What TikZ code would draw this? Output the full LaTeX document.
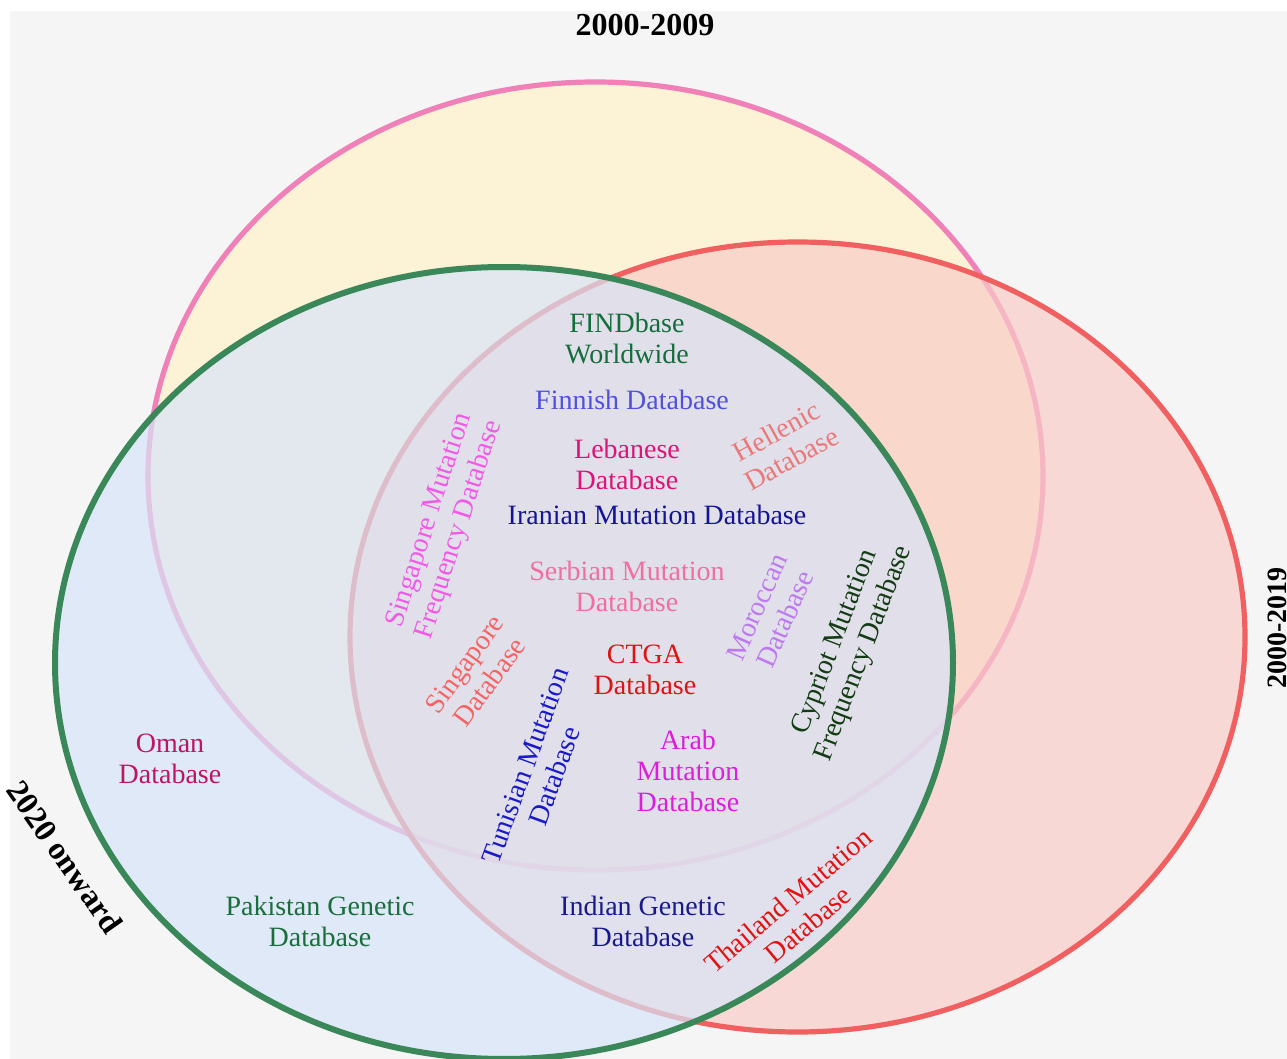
\documentclass[tikz,border=0pt]{standalone}
\usepackage{fontspec}
\setmainfont{Liberation Serif}
\usepackage{tikz}
\usetikzlibrary{positioning}
\definecolor{panel}{RGB}{245,245,245}
\definecolor{pinkline}{RGB}{240,128,184}
\definecolor{pinkfill}{RGB}{255,241,201}
\definecolor{redline}{RGB}{240,96,96}
\definecolor{redfill}{RGB}{249,204,199}
\definecolor{greenline}{RGB}{58,136,90}
\definecolor{greenfill}{RGB}{215,229,248}
\definecolor{cfind}{RGB}{20,110,60}
\definecolor{cfinn}{RGB}{80,80,220}
\definecolor{cleb}{RGB}{220,20,120}
\definecolor{chel}{RGB}{235,120,120}
\definecolor{ciran}{RGB}{20,20,150}
\definecolor{csgf}{RGB}{240,90,230}
\definecolor{cserb}{RGB}{240,110,160}
\definecolor{cmor}{RGB}{190,120,240}
\definecolor{ccyp}{RGB}{20,60,20}
\definecolor{csgd}{RGB}{245,100,100}
\definecolor{cctga}{RGB}{220,20,20}
\definecolor{ctun}{RGB}{25,25,200}
\definecolor{carab}{RGB}{220,30,220}
\definecolor{coman}{RGB}{190,20,100}
\definecolor{cpak}{RGB}{25,110,60}
\definecolor{cind}{RGB}{25,25,140}
\definecolor{cthai}{RGB}{225,20,20}

\begin{document}
\begin{tikzpicture}[x=0.5pt,y=-0.5pt,
  set/.style={line width=2.6pt, fill opacity=0.7},
  lbl/.style={align=center, inner sep=0pt, font=\fontsize{14pt}{15.5pt}\selectfont},
  era/.style={inner sep=0pt, font=\bfseries\fontsize{16pt}{18pt}\selectfont}]
\useasboundingbox (0,0) rectangle (1287,1059);
\fill[panel] (10,11) rectangle (1287,1059);
%\draw[help lines] (0,0) grid[step=100] (1287,1059);
\draw[set, draw=pinkline, fill=pinkfill] (595.5,476) ellipse [x radius=447.5, y radius=394];
\draw[set, draw=redline, fill=redfill] (797.5,637) ellipse [x radius=447.5, y radius=395];
\draw[set, draw=greenline, fill=greenfill, line width=3pt] (504,663) ellipse [x radius=449, y radius=396];
\node[era] (e2009) at (645,25) {2000-2009};
\node[era, font=\bfseries\fontsize{14pt}{16pt}\selectfont, rotate=90] (e2019) at (1277,628) {2000-2019};
\node[era, rotate=-55] (e2020) at (65,857) {2020 onward};
\node[lbl, text=cfind] (find) at (627,339) {FINDbase\\Worldwide};
\node[lbl, text=cfinn] (finn) at (632,400) {Finnish Database};
\node[lbl, text=cleb] (leb) at (627,464) {Lebanese\\Database};
\node[lbl, text=chel, rotate=29] (hel) at (784,445) {Hellenic\\Database};
\node[lbl, text=ciran] (iran) at (657,515) {Iranian Mutation Database};
\node[lbl, text=csgf, rotate=72] (sgfreq) at (445,525) {Singapore Mutation\\Frequency Database};
\node[lbl, text=cserb] (serb) at (627,586) {Serbian Mutation\\Database};
\node[lbl, text=cmor, rotate=66] (mor) at (771,613) {Moroccan\\Database};
\node[lbl, text=ccyp, rotate=69] (cyp) at (850,648) {Cypriot Mutation\\Frequency Database};
\node[lbl, text=csgd, rotate=54] (sgdb) at (477,673) {Singapore\\Database};
\node[lbl, text=cctga] (ctga) at (645,670) {CTGA\\Database};
\node[lbl, text=ctun, rotate=70] (tun) at (540,771) {Tunisian Mutation\\Database};
\node[lbl, text=carab] (arab) at (688,771) {Arab\\Mutation\\Database};
\node[lbl, text=coman] (oman) at (170,759) {Oman\\Database};
\node[lbl, text=cpak] (pak) at (320,921) {Pakistan Genetic\\Database};
\node[lbl, text=cind] (ind) at (643,921) {Indian Genetic\\Database};
\node[lbl, text=cthai, rotate=40] (thai) at (798,912) {Thailand Mutation\\Database};
\end{tikzpicture}
\end{document}
